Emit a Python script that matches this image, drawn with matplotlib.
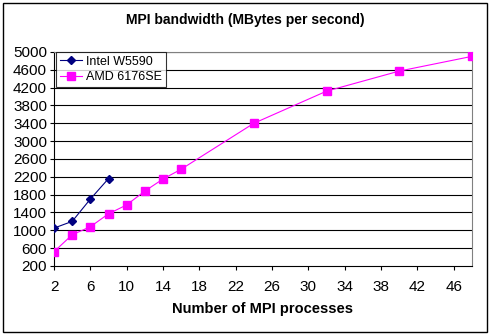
import matplotlib.pyplot as plt
from matplotlib.patches import Rectangle

plt.rcParams['font.family'] = ['Liberation Sans', 'DejaVu Sans']

# MPI bandwidth measurements
intel_procs = [2, 4, 6, 8]
intel_bw = [1050, 1200, 1700, 2160]
amd_procs = [2, 4, 6, 8, 10, 12, 14, 16, 24, 32, 40, 48]
amd_bw = [520, 900, 1080, 1370, 1570, 1880, 2150, 2370, 3400, 4120, 4570, 4900]

xticks = list(range(2, 47, 4))
yticks = list(range(200, 5001, 400))

fig = plt.figure(figsize=(4.91, 3.35), dpi=100)
ax = fig.add_axes([0.110, 0.206, 0.851, 0.639])

for y in yticks[1:]:
    ax.axhline(y, color='black', lw=0.8, zorder=1)

ax.plot(intel_procs, intel_bw, color='#000080', marker='D', markersize=4.5,
        lw=0.8, label='Intel W5590', zorder=3)
ax.plot(amd_procs, amd_bw, color='#FF00FF', marker='s', markersize=6,
        lw=0.8, label='AMD 6176SE', zorder=3)

ax.set_xlim(2, 48)
ax.set_ylim(200, 5000)
ax.set_xticks(xticks)
ax.set_yticks(yticks)
ax.tick_params(axis='both', labelsize=11, length=3, width=0.8, direction='out', color='black')
ax.tick_params(axis='x', pad=7)
ax.tick_params(axis='y', pad=2)

for side in ['top', 'right']:
    ax.spines[side].set_color('#808080')
    ax.spines[side].set_linewidth(0.8)
for side in ['left', 'bottom']:
    ax.spines[side].set_color('black')
    ax.spines[side].set_linewidth(0.8)

ax.set_xlabel('Number of MPI processes', fontsize=10.5, fontweight='bold', labelpad=6)
fig.text(0.5, 0.94, 'MPI bandwidth (MBytes per second)', ha='center', va='center',
         fontsize=10, fontweight='bold')

leg = ax.legend(loc='upper left', bbox_to_anchor=(0.005, 1.0), fontsize=9, frameon=True,
                fancybox=False, edgecolor='black', borderpad=0.3, labelspacing=0.3,
                handlelength=1.8, handletextpad=0.3, borderaxespad=0)
leg.get_frame().set_linewidth(0.8)

fig.patches.append(Rectangle((0.006, 0.009), 0.986, 0.982, transform=fig.transFigure,
                             fill=False, edgecolor='black', lw=1))

fig.savefig('out.png', dpi=100)
